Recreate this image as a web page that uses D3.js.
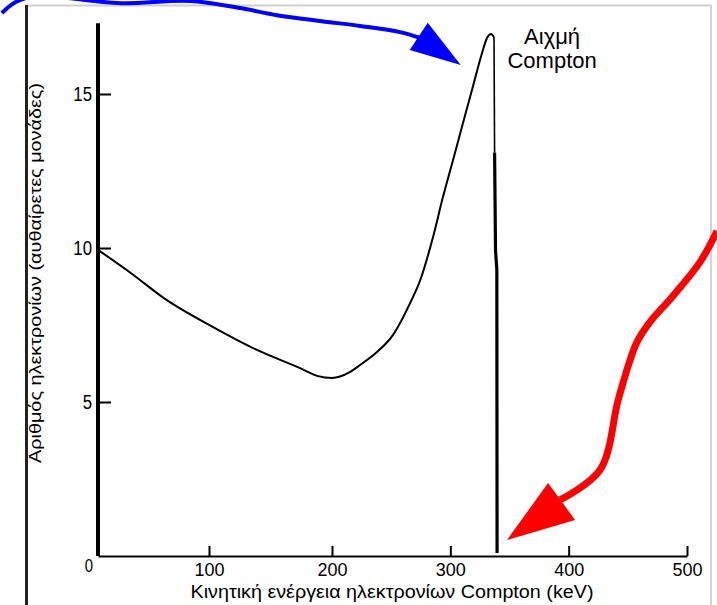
<!DOCTYPE html>
<html>
<head>
<meta charset="utf-8">
<script src="https://cdn.jsdelivr.net/npm/d3@7"></script>
<style>
  body { margin: 0; background: #fff; }
  svg { display: block; }
  text { font-family: "Liberation Sans", Arial, sans-serif; fill: #000; }
</style>
</head>
<body>
<svg id="chart" width="717" height="605"></svg>
<script>
// electron kinetic energy (keV) and counts (arbitrary units)
var energy = [0, 29.5, 60.7, 103, 139, 174, 188.6, 200, 215, 223.7, 238, 251.6, 266, 274.6, 285.4, 293.8, 302.3, 310.7, 319.2, 326.8, 331, 334.4, 336.9];
var counts = [9.94, 9.19, 8.34, 7.44, 6.69, 6.1, 5.84, 5.78, 5.97, 6.2, 6.62, 7.18, 8.21, 8.96, 10.36, 11.66, 12.86, 14.06, 15.26, 16.33, 16.82, 16.95, 16.85];

// the Compton edge drop
var edgeEnergy = [336.9, 337.4, 338.2, 339.3, 339.5];
var edgeCounts = [16.85, 13.1, 9.9, 9.3, 0.1];

var xTicks = [100, 200, 300, 400, 500];
var yTicks = [5, 10, 15];

// annotation arrows, in the same data units
var blueE = [-86.6, -74.1, -55.4, -28.6, 20.5, 83, 125.2, 155.3, 190.2, 223.7, 257.5, 274.4];
var blueV = [17.63, 17.99, 18.18, 18.12, 17.95, 18.02, 17.79, 17.56, 17.37, 17.21, 17.01, 16.82];
var blueHeadE = [280.9, 265.7, 308.8];
var blueHeadV = [17.31, 16.43, 15.94];
var redE = [525.4, 511.1, 487.4, 468.8, 457.8, 451.9, 441.8, 426.5, 392.7];
var redV = [10.55, 9.55, 8.41, 7.6, 6.95, 6.36, 5.06, 2.79, 1.82];
var redHeadE = [382.6, 405.4, 347.9];
var redHeadV = [2.37, 1.17, 0.52];

var svg = d3.select('#chart');

var x = d3.scaleLinear().domain([0, 100, 200, 500]).range([98, 209, 332, 687]);
var y = d3.scaleLinear().domain([0, 15]).range([556, 94]);

// frame of the picture
svg.append("line").attr("x1", 25).attr("x2", 712).attr("y1", 5.5).attr("y2", 5.5).style("stroke", "#cfcfcf").style("stroke-width", 2)
svg.append("line").attr("x1", 711).attr("x2", 711).attr("y1", 5).attr("y2", 605).style("stroke", "#d4d4d4").style("stroke-width", 2)
svg.append("line").attr("x1", 26.5).attr("x2", 26.5).attr("y1", 5).attr("y2", 605).style("stroke", "#222").style("stroke-width", 3)

// x axis
var xAxis = svg.append("g").attr("transform", "translate(0," + y(0) + ")")
  .call(d3.axisBottom(x).tickValues(xTicks).tickSize(-10).tickSizeOuter(0).tickPadding(7));
xAxis.select(".domain").style("stroke", "#000").style("stroke-width", 2);
xAxis.selectAll(".tick line").style("stroke", "#000").style("stroke-width", 2);
xAxis.selectAll(".tick text").style("font-size", "18px").style("font-family", "Liberation Sans, Arial, sans-serif");

// y axis, tall narrow labels
var yAxis = svg.append("g").attr("transform", "translate(" + x(0) + ",0)")
  .call(d3.axisLeft(y).tickValues(yTicks).tickSize(-13).tickSizeOuter(0).tickPadding(7));
yAxis.select(".domain").remove();
yAxis.selectAll(".tick line").style("stroke", "#000").style("stroke-width", 2);
yAxis.selectAll(".tick text").attr("x", 0).attr("transform", "translate(-6,0) scale(0.8,1)")
  .style("font-size", "21px").style("font-family", "Liberation Sans, Arial, sans-serif");
svg.append("line").attr("x1", x(0)).attr("x2", x(0)).attr("y1", y(0)).attr("y2", y(17.3)).style("stroke", "#000").style("stroke-width", 4)

svg.append("text").attr("transform", "translate(" + (x(0) - 5) + "," + (y(0) + 9) + ") scale(0.78,1)").attr("dy", "0.35em")
  .attr("text-anchor", "end").style("font-size", "19px").text("0")

// axis titles
svg.append("text").attr("x", 392).attr("y", 598).attr("text-anchor", "middle").style("font-size", "17.5px")
  .attr("textLength", 403).attr("lengthAdjust", "spacingAndGlyphs")
  .text("Κινητική ενέργεια ηλεκτρονίων Compton (keV)")
svg.append("text").attr("transform", "translate(41,273) rotate(-90)").attr("text-anchor", "middle").style("font-size", "16.5px")
  .attr("textLength", 380).attr("lengthAdjust", "spacingAndGlyphs")
  .text("Αριθμός ηλεκτρονίων (αυθαίρετες μονάδες)")

// spectrum
var curve = d3.line().x(function(d) { return x(d[0]); }).y(function(d) { return y(d[1]); }).curve(d3.curveCatmullRom);
var smooth = d3.line().x(function(d) { return x(d[0]); }).y(function(d) { return y(d[1]); }).curve(d3.curveMonotoneX);
var straight = d3.line().x(function(d) { return x(d[0]); }).y(function(d) { return y(d[1]); });

svg.append("path").datum(d3.zip(energy, counts)).attr("d", smooth)
  .style("fill", "none").style("stroke", "#000").style("stroke-width", 2)
svg.append("path").datum(d3.zip(edgeEnergy.slice(0, 2), edgeCounts.slice(0, 2))).attr("d", straight)
  .style("fill", "none").style("stroke", "#000").style("stroke-width", 1.6)
svg.append("path").datum(d3.zip(edgeEnergy.slice(1), edgeCounts.slice(1))).attr("d", straight)
  .style("fill", "none").style("stroke", "#000").style("stroke-width", 3.2)

// label of the peak
svg.append("text").attr("x", x(386)).attr("y", y(16.62)).attr("text-anchor", "middle").style("font-size", "22px").text("Αιχμή")
svg.append("text").attr("x", x(386)).attr("y", y(15.84)).attr("text-anchor", "middle").style("font-size", "22px").text("Compton")

// arrows
svg.append("path").datum(d3.zip(blueE, blueV)).attr("d", curve)
  .style("fill", "none").style("stroke", "#0000ff").style("stroke-width", 4)
svg.append("path").datum(d3.zip(blueHeadE, blueHeadV)).attr("d", function(d) { return straight(d) + "Z"; })
  .style("fill", "#0000ff")
svg.append("path").datum(d3.zip(redE, redV)).attr("d", curve)
  .style("fill", "none").style("stroke", "#ff0000").style("stroke-width", 7).style("stroke-linejoin", "round")
svg.append("path").datum(d3.zip(redHeadE, redHeadV)).attr("d", function(d) { return straight(d) + "Z"; })
  .style("fill", "#ff0000")
</script>
</body>
</html>
